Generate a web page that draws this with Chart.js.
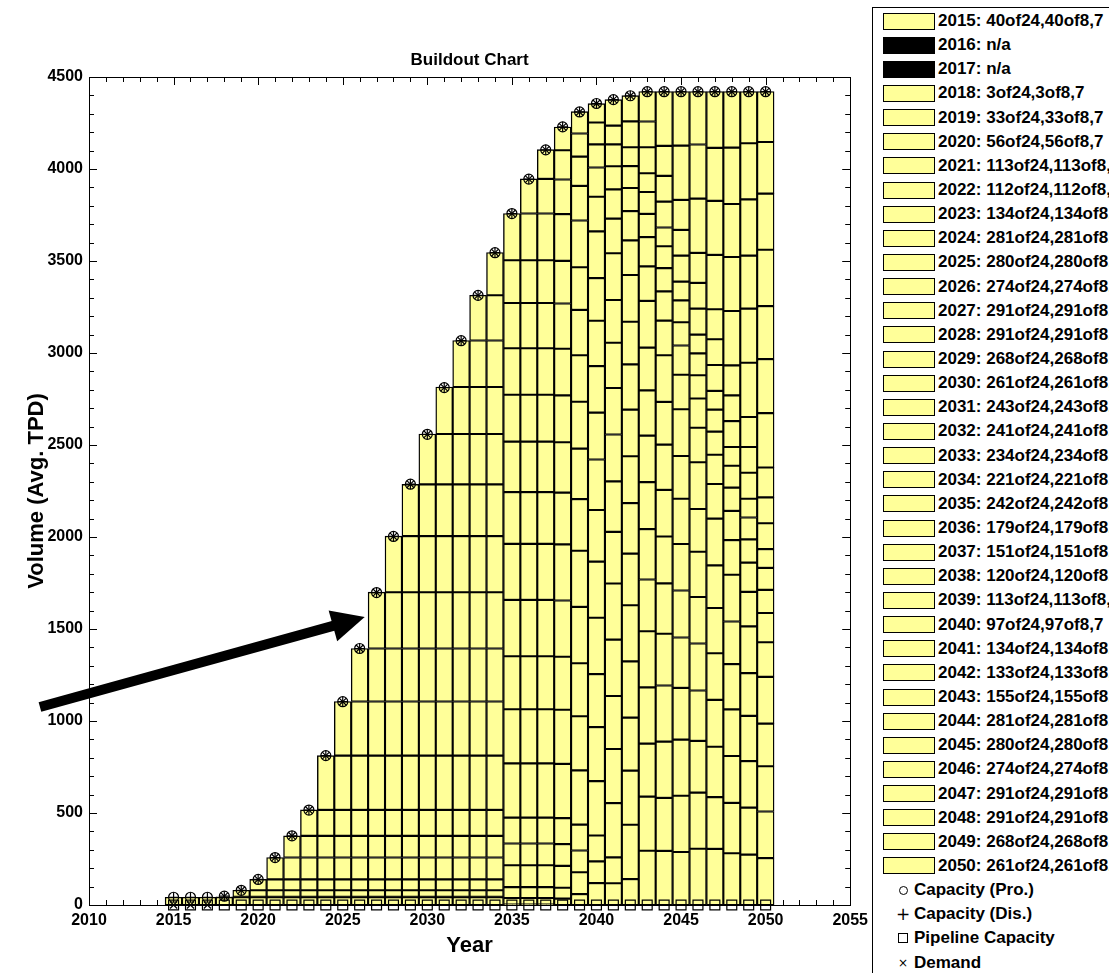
<!DOCTYPE html>
<html>
<head>
<meta charset="utf-8">
<title>Buildout Chart</title>
<script src="https://cdn.jsdelivr.net/npm/chart.js@4.4.1/dist/chart.umd.min.js"></script>
<style>
    html, body { margin: 0; padding: 0; background: #fff; }
    #page { position: relative; width: 1109px; height: 973px; overflow: hidden; font-family: 'Liberation Sans', Arial, sans-serif; }
    #chart-box { position: absolute; left: 0; top: 0; width: 874px; height: 973px; }
    #legend { position: absolute; left: 872px; top: 7px; width: 320px; height: 1000px; border: 1px solid #000; padding-top: 1px; box-sizing: border-box; background: #fff; }
    .row { height: 24.15px; display: flex; align-items: center; white-space: nowrap; font-weight: bold; font-size: 17px; color: #000; }
    .swatch { width: 50px; height: 15px; border: 1px solid #000; margin-left: 10px; margin-right: 3px; flex: none; }
    .sym { width: 14px; margin-left: 23px; margin-right: 4px; flex: none; display: flex; justify-content: center; align-items: center; font-weight: normal; font-family: 'DejaVu Sans', sans-serif; }
    .sym .circle { width: 7px; height: 7px; border: 1px solid #000; border-radius: 50%; }
    .sym .square { width: 8px; height: 8px; border: 1px solid #000; }
</style>
</head>
<body>
<div id="page">
    <div id="chart-box"><canvas id="buildout"></canvas></div>
    <div id="legend"></div>
</div>
<script>
// cohort (build year) data
const cohortYears = [2015, 2016, 2017, 2018, 2019, 2020, 2021, 2022, 2023, 2024, 2025, 2026,
    2027, 2028, 2029, 2030, 2031, 2032, 2033, 2034, 2035, 2036, 2037, 2038,
    2039, 2040, 2041, 2042, 2043, 2044, 2045, 2046, 2047, 2048, 2049, 2050];
// numbers shown in the legend text (null = n/a)
const cohortUnits = [40, null, null, 3, 33, 56, 113, 112, 134, 281, 280, 274,
    291, 291, 268, 261, 243, 241, 234, 221, 242, 179, 151, 120,
    113, 97, 134, 133, 155, 281, 280, 274, 291, 291, 268, 261];
// height of each cohort's segment (Avg. TPD)
const cohortTpd = [42, null, null, 3, 35, 59, 119, 118, 141, 295, 294, 288,
    306, 305, 281, 274, 255, 253, 246, 232, 254, 188, 159, 126,
    119, 102, 141, 140, 163, 295, 294, 288, 306, 305, 281, 274];
// a cohort stays in the stack this many years
const serviceLife = 20;

// marker series per year (2015..2050)
const capacityPro = [42, 42, 42, 48, 80, 139, 258, 376, 516, 812, 1105, 1394,
    1698, 2003, 2287, 2558, 2812, 3067, 3313, 3545, 3758, 3945, 4104, 4229,
    4310, 4356, 4377, 4398, 4420, 4420, 4420, 4420, 4420, 4420, 4420, 4420];
const capacityDis = [42, 42, 42, 48, 80, 139, 258, 376, 516, 812, 1105, 1394,
    1698, 2003, 2287, 2558, 2812, 3067, 3313, 3545, 3758, 3945, 4104, 4229,
    4310, 4356, 4377, 4398, 4420, 4420, 4420, 4420, 4420, 4420, 4420, 4420];
const pipelineCapacity = [0, 0, 0, 0, 0, 0, 0, 0, 0, 0, 0, 0,
    0, 0, 0, 0, 0, 0, 0, 0, 0, 0, 0, 0,
    0, 0, 0, 0, 0, 0, 0, 0, 0, 0, 0, 0];
const demand = [0, 0, 0, 48, 80, 139, 258, 376, 516, 812, 1105, 1394,
    1698, 2003, 2287, 2558, 2812, 3067, 3313, 3545, 3758, 3945, 4104, 4229,
    4310, 4356, 4377, 4398, 4420, 4420, 4420, 4420, 4420, 4420, 4420, 4420];

// axes
const xRange = [2010, 2055];
const yRange = [0, 4500];
const xMajorStep = 5, xMinorStep = 1;
const yMajorStep = 500, yMinorStep = 100;

// annotation arrow, in data units
const arrowTail = [2007.1, 1076];
const arrowTip = [2026.3, 1565];

const chartTitle = 'Buildout Chart';
const FONT = "'Liberation Sans', Arial, sans-serif";
const YELLOW = '#ffff99';

Chart.defaults.font.family = FONT;
Chart.defaults.color = '#000';

// frame with inward ticks on all four sides
const frameTicks = {
    id: 'frameTicks',
    beforeDatasetsDraw(chart) {
        const { ctx, chartArea: a, scales: { x, y } } = chart;
        ctx.save();
        ctx.strokeStyle = '#000';
        ctx.lineWidth = 1;
        ctx.strokeRect(Math.round(a.left) + 0.5, Math.round(a.top) + 0.5,
            Math.round(a.right) - Math.round(a.left), Math.round(a.bottom) - Math.round(a.top));
        ctx.beginPath();
        for (let v = xRange[0]; v <= xRange[1]; v += xMinorStep) {
            const px = Math.round(x.getPixelForValue(v)) + 0.5;
            const len = (v - xRange[0]) % xMajorStep === 0 ? 8 : 5;
            ctx.moveTo(px, a.top); ctx.lineTo(px, a.top + len);
            ctx.moveTo(px, a.bottom); ctx.lineTo(px, a.bottom - len);
        }
        for (let v = yRange[0]; v <= yRange[1]; v += yMinorStep) {
            const py = Math.round(y.getPixelForValue(v)) + 0.5;
            const len = v % yMajorStep === 0 ? 8 : 5;
            ctx.moveTo(a.left, py); ctx.lineTo(a.left + len, py);
            ctx.moveTo(a.right, py); ctx.lineTo(a.right - len, py);
        }
        ctx.stroke();
        ctx.restore();
    }
};

const plotTitle = {
    id: 'plotTitle',
    afterDraw(chart) {
        const { ctx, chartArea: a } = chart;
        ctx.save();
        ctx.font = 'bold 17px ' + FONT;
        ctx.fillStyle = '#000';
        ctx.textAlign = 'center';
        ctx.textBaseline = 'middle';
        ctx.fillText(chartTitle, (a.left + a.right) / 2, a.top - 17);
        ctx.restore();
    }
};

const arrow = {
    id: 'arrow',
    afterDraw(chart) {
        const { ctx, scales: { x, y } } = chart;
        const x0 = x.getPixelForValue(arrowTail[0]), y0 = y.getPixelForValue(arrowTail[1]);
        const x1 = x.getPixelForValue(arrowTip[0]), y1 = y.getPixelForValue(arrowTip[1]);
        const ang = Math.atan2(y1 - y0, x1 - x0);
        const headLen = 33, headHalf = 16;
        const bx = x1 - headLen * Math.cos(ang), by = y1 - headLen * Math.sin(ang);
        ctx.save();
        ctx.strokeStyle = '#000';
        ctx.fillStyle = '#000';
        ctx.lineWidth = 10;
        ctx.beginPath();
        ctx.moveTo(x0, y0);
        ctx.lineTo(bx + 2 * Math.cos(ang), by + 2 * Math.sin(ang));
        ctx.stroke();
        ctx.beginPath();
        ctx.moveTo(x1, y1);
        ctx.lineTo(bx + headHalf * Math.sin(ang), by - headHalf * Math.cos(ang));
        ctx.lineTo(bx - headHalf * Math.sin(ang), by + headHalf * Math.cos(ang));
        ctx.closePath();
        ctx.fill();
        ctx.restore();
    }
};

function cohortDataset(year, i) {
    const v = cohortTpd[i];
    const points = v == null ? [] : cohortYears
        .filter(yr => yr >= year && yr < year + serviceLife)
        .map(yr => ({ x: yr, y: v }));
    const units = cohortUnits[i];
    return {
        type: 'bar',
        label: units == null ? `${year}: n/a` : `${year}: ${units}of24,${units}of8,7`,
        data: points,
        backgroundColor: v == null ? '#000' : YELLOW,
        borderColor: '#000',
        borderWidth: 1.4,
        borderSkipped: false,
        barPercentage: 1,
        categoryPercentage: 1,
        order: 1
    };
}

function markerDataset(label, values, style, radius, stack) {
    return {
        type: 'line',
        label,
        data: cohortYears.map((yr, i) => ({ x: yr, y: values[i] })),
        showLine: false,
        pointStyle: style,
        pointRadius: radius,
        pointHoverRadius: radius,
        pointBorderColor: '#000',
        pointBackgroundColor: 'rgba(0,0,0,0)',
        pointBorderWidth: 1.2,
        borderColor: '#000',
        backgroundColor: 'rgba(0,0,0,0)',
        stack,
        order: 0,
        clip: false
    };
}

const datasets = cohortYears.map(cohortDataset).concat([
    markerDataset('Capacity (Pro.)', capacityPro, 'circle', 5, 'pro'),
    markerDataset('Capacity (Dis.)', capacityDis, 'cross', 5, 'dis'),
    markerDataset('Pipeline Capacity', pipelineCapacity, 'rect', 7, 'pipe'),
    markerDataset('Demand', demand, 'crossRot', 5, 'dem')
]);

const chart = new Chart(document.getElementById('buildout'), {
    type: 'bar',
    data: { datasets },
    options: {
        responsive: true,
        maintainAspectRatio: false,
        animation: false,
        layout: { padding: { top: 77, right: 21, bottom: 0, left: 0 } },
        plugins: {
            legend: { display: false },
            tooltip: { enabled: false }
        },
        scales: {
            x: {
                type: 'linear',
                stacked: true,
                offset: false,
                min: xRange[0],
                max: xRange[1],
                grid: { display: false, drawTicks: false, offset: false },
                border: { display: false },
                ticks: {
                    stepSize: xMajorStep,
                    padding: 6,
                    font: { size: 16, weight: 'bold' },
                    callback: v => String(v)
                },
                title: {
                    display: true,
                    text: 'Year',
                    font: { size: 22, weight: 'bold' },
                    padding: { top: 0, bottom: 14 }
                },
                afterFit: s => { s.height = 68; }
            },
            y: {
                stacked: true,
                min: yRange[0],
                max: yRange[1],
                grid: { display: false, drawTicks: false },
                border: { display: false },
                ticks: {
                    stepSize: yMajorStep,
                    padding: 6,
                    font: { size: 16, weight: 'bold' },
                    callback: v => String(v)
                },
                title: {
                    display: true,
                    text: 'Volume (Avg. TPD)',
                    font: { size: 22, weight: 'bold' },
                    padding: { top: 24, bottom: 0 }
                },
                afterFit: s => { s.width = 89; }
            }
        }
    },
    plugins: [frameTicks, plotTitle, arrow]
});

// legend on the right, built from the chart's datasets
const legendEl = document.getElementById('legend');
chart.data.datasets.forEach(ds => {
    const row = document.createElement('div');
    row.className = 'row';
    if (ds.type === 'bar') {
        const sw = document.createElement('span');
        sw.className = 'swatch';
        sw.style.background = ds.backgroundColor;
        row.appendChild(sw);
    } else {
        const sym = document.createElement('span');
        sym.className = 'sym';
        if (ds.pointStyle === 'circle') sym.innerHTML = '<span class="circle"></span>';
        else if (ds.pointStyle === 'rect') sym.innerHTML = '<span class="square"></span>';
        else if (ds.pointStyle === 'cross') { sym.textContent = '+'; sym.style.fontSize = '17px'; }
        else { sym.textContent = '\u00d7'; sym.style.fontSize = '12px'; }
        row.appendChild(sym);
    }
    const txt = document.createElement('span');
    txt.textContent = ds.label;
    row.appendChild(txt);
    legendEl.appendChild(row);
});
</script>
</body>
</html>
